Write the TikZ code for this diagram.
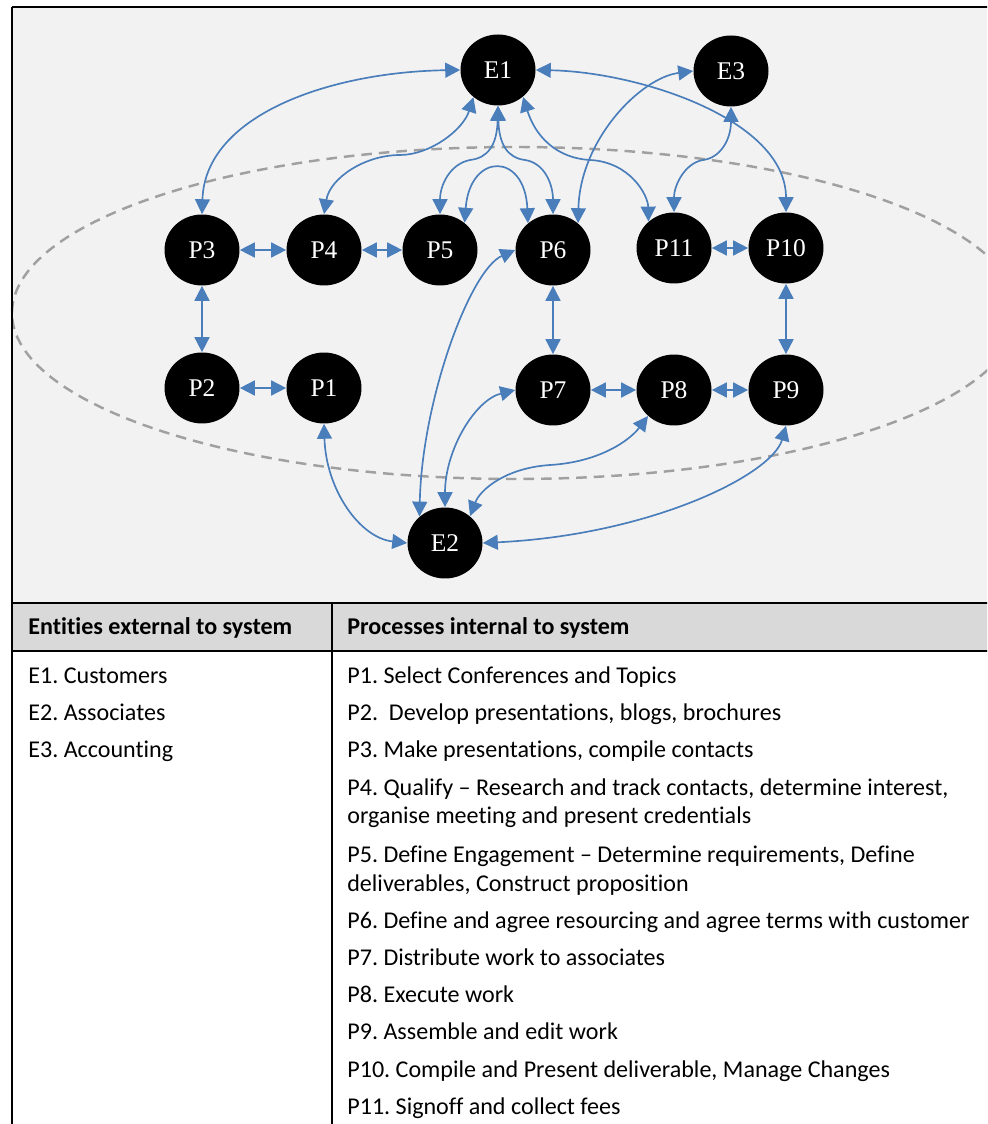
\documentclass[tikz,border=0pt]{standalone}
\usepackage{fontspec}
\setmainfont[Ligatures=NoCommon]{Carlito}
\newfontfamily\labelfont{Liberation Serif}
\usetikzlibrary{shapes.geometric,arrows.meta}
\frenchspacing

\definecolor{panel}{HTML}{F2F2F2}
\definecolor{headfill}{HTML}{D9D9D9}
\definecolor{flow}{HTML}{4A7EBB}
\definecolor{boundary}{HTML}{A0A0A0}

\begin{document}
\begin{tikzpicture}[x=0.02cm,y=0.02cm,
  bubble/.style={ellipse, fill=black, inner sep=0pt, minimum width=1.5cm,
    minimum height=1.42cm, text=white, font=\labelfont\fontsize{14.5}{16}\selectfont},
  link/.style={draw=flow, line width=0.95pt,
    {Triangle[length=8.5pt,width=8.5pt]}-{Triangle[length=8.5pt,width=8.5pt]}},
  cell/.style={anchor=base west, inner sep=0pt, font=\fontsize{13.7}{16}\selectfont},
  headcell/.style={anchor=base west, inner sep=0pt, font=\bfseries\fontsize{13.7}{16}\selectfont},
  rule/.style={draw=black, line width=1.1pt},
  thinrule/.style={draw=black, line width=0.8pt},
]
\useasboundingbox (0,0) rectangle (987,-1124);
\clip (0,0) rectangle (987,-1124);

% panels of the frame
\fill[white] (0,0) rectangle (987,-1124);
\fill[panel] (12,-7) rectangle (995,-603);
\fill[headfill] (12,-603) rectangle (995,-651);

% system boundary
\draw[boundary, line width=1.4pt, dash pattern=on 6pt off 4pt]
  (515,-313) ellipse [x radius=503, y radius=166];

% entities and processes
\node[bubble] (E1) at (498,-70) {E1};
\node[bubble] (E3) at (731,-71) {E3};
\node[bubble] (E2) at (445,-543) {E2};
\node[bubble] (P3) at (202,-250) {P3};
\node[bubble] (P4) at (324,-250) {P4};
\node[bubble] (P5) at (440,-250) {P5};
\node[bubble] (P6) at (553,-250) {P6};
\node[bubble] (P11) at (674,-248) {P11};
\node[bubble] (P10) at (786,-248) {P10};
\node[bubble] (P2) at (202,-388) {P2};
\node[bubble] (P1) at (324,-388) {P1};
\node[bubble] (P7) at (553,-390) {P7};
\node[bubble] (P8) at (674,-390) {P8};
\node[bubble] (P9) at (786,-390) {P9};

% flows to and from E1
\draw[link] (E1.west) .. controls (330,-72) and (205,-115) .. (P3.north);
\draw[link] (E1.228) .. controls (463,-130) and (430,-155) .. (400,-155)
  .. controls (365,-155) and (330,-178) .. (P4.north);
\draw[link] (E1.south) .. controls (497,-145) and (488,-158) .. (470,-160)
  .. controls (450,-164) and (440,-185) .. (P5.north);
\draw[link] (E1.south) .. controls (499,-145) and (508,-158) .. (525,-160)
  .. controls (545,-163) and (553,-185) .. (P6.north);
\draw[link] (E1.-47) .. controls (535,-135) and (555,-158) .. (590,-160)
  .. controls (630,-162) and (648,-195) .. (P11.134);
\draw[link] (E1.east) .. controls (640,-72) and (786,-120) .. (P10.north);

% flows to and from E3
\draw[link] (E3.west) .. controls (640,-78) and (580,-140) .. (P6.47);
\draw[link] (E3.south) .. controls (731,-140) and (720,-158) .. (703,-160)
  .. controls (685,-163) and (674,-185) .. (P11.north);

% flows between processes
\draw[link] (P5.48) .. controls (470,-152) and (525,-152) .. (P6.133);
\draw[link] (P3.east) -- (P4.west);
\draw[link] (P4.east) -- (P5.west);
\draw[link] (P11.east) -- (P10.west);
\draw[link] (P3.south) -- (P2.north);
\draw[link] (P2.east) -- (P1.west);
\draw[link] (P6.south) -- (P7.north);
\draw[link] (P7.east) -- (P8.west);
\draw[link] (P8.east) -- (P9.west);
\draw[link] (P10.south) -- (P9.north);

% flows to and from E2
\draw[link] (P1.south) .. controls (326,-490) and (360,-538) .. (E2.west);
\draw[link] (P6.west) .. controls (470,-270) and (422,-400) .. (E2.134);
\draw[link] (P7.west) .. controls (475,-400) and (445,-450) .. (E2.north);
\draw[link] (P8.225) .. controls (630,-440) and (600,-462) .. (550,-465)
  .. controls (505,-468) and (480,-490) .. (E2.47);
\draw[link] (P9.south) .. controls (772,-475) and (650,-535) .. (E2.east);

% legend table rules
\draw[thinrule] (12,-7) -- (995,-7);
\draw[thinrule] (12,-7) -- (12,-1130);
\draw[rule] (12,-603) -- (995,-603);
\draw[rule] (12,-651) -- (995,-651);
\draw[thinrule] (332,-603) -- (332,-1130);

% legend table text
\node[headcell] (h1) at (28,-634) {Entities external to system};
\node[headcell] (h2) at (347,-634) {Processes internal to system};

\node[cell] (e1) at (28,-683) {E1. Customers};
\node[cell] (e2) at (28,-720) {E2. Associates};
\node[cell] (e3) at (28,-757) {E3. Accounting};

\node[cell] (t1) at (347,-683) {P1. Select Conferences and Topics};
\node[cell] (t2) at (347,-720) {P2.\ \ Develop presentations, blogs, brochures};
\node[cell] (t3) at (347,-757) {P3. Make presentations, compile contacts};
\node[cell] (t4a) at (347,-795) {P4. Qualify – Research and track contacts, determine interest,};
\node[cell] (t4b) at (347,-823) {organise meeting and present credentials};
\node[cell] (t5a) at (347,-862) {P5. Define Engagement – Determine requirements, Define};
\node[cell] (t5b) at (347,-891) {deliverables, Construct proposition};
\node[cell] (t6) at (347,-928) {P6. Define and agree resourcing and agree terms with customer};
\node[cell] (t7) at (347,-965) {P7. Distribute work to associates};
\node[cell] (t8) at (347,-1002) {P8. Execute work};
\node[cell] (t9) at (347,-1039) {P9. Assemble and edit work};
\node[cell] (t10) at (347,-1077) {P10. Compile and Present deliverable, Manage Changes};
\node[cell] (t11) at (347,-1114) {P11. Signoff and collect fees};
\end{tikzpicture}
\end{document}
